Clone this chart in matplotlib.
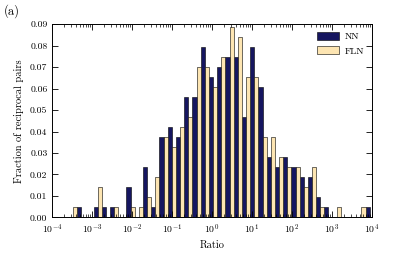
import numpy as np
import matplotlib
matplotlib.use("Agg")
import matplotlib.pyplot as plt
from matplotlib.ticker import LogLocator, NullFormatter

plt.rcParams["font.family"] = ["cmr10", "DejaVu Serif"]
plt.rcParams["mathtext.fontset"] = "cm"
plt.rcParams["axes.formatter.use_mathtext"] = True
plt.rcParams["axes.unicode_minus"] = False

# counts per log bin (39 bins from 1e-4 up), N = 214 each
nn_counts = [0, 0, 0, 1, 0, 1, 1, 1, 0, 3, 0, 5, 1, 8, 9, 8, 12, 12, 17, 14,
             15, 16, 16, 10, 17, 13, 6, 5, 6, 5, 4, 4, 2, 1, 0, 0, 0, 0, 1]
fln_counts = [0, 0, 1, 0, 0, 3, 0, 1, 0, 1, 1, 2, 4, 8, 7, 9, 10, 15, 15, 13,
              16, 19, 18, 14, 14, 8, 8, 6, 5, 5, 3, 5, 1, 0, 1, 0, 0, 1, 0]
labels = ["NN", "FLN"]
colors = ["#161660", "#fde5b2"]

nn = np.array(nn_counts) / sum(nn_counts)
fln = np.array(fln_counts) / sum(fln_counts)

edges = np.logspace(-4, 4.05, len(nn_counts) + 1)
centers = np.sqrt(edges[:-1] * edges[1:])

fig = plt.figure(figsize=(4.15, 2.57), dpi=100)
ax = fig.add_axes([0.126, 0.154, 0.770, 0.752])

ax.bar(edges[:-1], nn, width=centers - edges[:-1], align="edge",
       color=colors[0], edgecolor="black", linewidth=0.4, label=labels[0])
ax.bar(centers, fln, width=edges[1:] - centers, align="edge",
       color=colors[1], edgecolor="black", linewidth=0.4, label=labels[1])

ax.set_xscale("log")
ax.set_xlim(1e-4, 1e4)
ax.set_ylim(0, 0.09)
ax.set_xticks([10.0 ** p for p in range(-4, 5)])
ax.xaxis.set_minor_locator(LogLocator(base=10, subs=np.arange(2, 10), numticks=20))
ax.xaxis.set_minor_formatter(NullFormatter())
ax.set_yticks(np.arange(0, 0.091, 0.01))
ax.set_yticklabels([f"{v:.2f}" for v in np.arange(0, 0.091, 0.01)])

ax.tick_params(which="both", direction="in", top=True, right=True, labelsize=7)
ax.tick_params(which="major", length=4, width=0.6)
ax.tick_params(which="minor", length=2, width=0.5)
for s in ax.spines.values():
    s.set_linewidth(0.7)

ax.set_xlabel("Ratio", fontsize=7.5, labelpad=3)
ax.set_ylabel("Fraction of reciprocal pairs", fontsize=7.5, labelpad=4)

leg = ax.legend(loc="upper right", fontsize=7, frameon=False,
                handlelength=2.2, handleheight=0.9, borderaxespad=0.4,
                labelspacing=0.5, handletextpad=0.6)

fig.text(0.008, 0.955, "(a)", fontsize=9, va="center", ha="left")

fig.savefig("out.png", dpi=100)
